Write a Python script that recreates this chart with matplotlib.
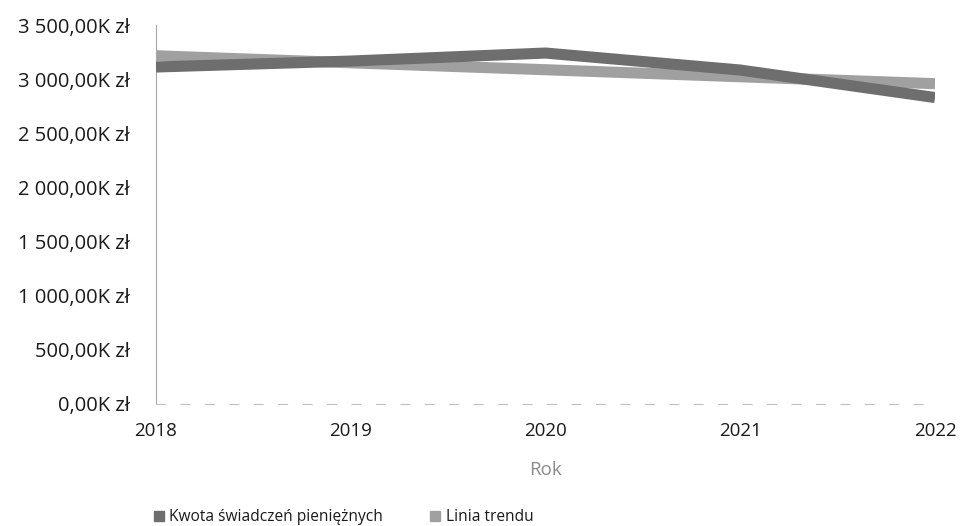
import matplotlib
matplotlib.use("Agg")
import matplotlib.pyplot as plt
from matplotlib.ticker import FuncFormatter
from matplotlib.lines import Line2D

years = [2018, 2019, 2020, 2021, 2022]
kwota = [3112, 3167, 3241, 3084, 2830]          # tys. zł
trend = [3216, 3151, 3087, 3022, 2958]          # tys. zł (linia trendu)
yticks = [0, 500, 1000, 1500, 2000, 2500, 3000, 3500]

plt.rcParams['font.family'] = ['Open Sans', 'DejaVu Sans']

fig = plt.figure(figsize=(9.63, 5.26), dpi=100)
ax = fig.add_axes([156/963, 122/526, 779/963, 379/526])

c_data = '#6e6e6e'
c_trend = '#a0a0a0'
ax.plot(years, trend, color=c_trend, lw=8, solid_capstyle='butt', zorder=2)
ax.plot(years, kwota, color=c_data, lw=8, solid_capstyle='butt', zorder=3)

ax.set_xlim(2018, 2022)
ax.set_ylim(0, 3500)
ax.set_yticks(yticks)
ax.set_xticks(years)

def fmt(v, pos):
    s = f"{v:,.2f}".replace(",", " ").replace(".", ",")
    return s + "K zł"
ax.yaxis.set_major_formatter(FuncFormatter(fmt))

for s in ['top', 'right']:
    ax.spines[s].set_visible(False)
ax.spines['left'].set_color('#a8a8a8')
ax.spines['left'].set_linestyle((0, (2, 1)))
ax.spines['left'].set_linewidth(0.8)
ax.spines['bottom'].set_color('#c0c0c0')
ax.spines['bottom'].set_linestyle((0, (8, 14)))
ax.spines['bottom'].set_linewidth(0.8)

ax.tick_params(axis='both', length=0, colors='#1a1a1a')
ax.tick_params(axis='y', pad=19, labelsize=14.5)
ax.tick_params(axis='x', pad=13, labelsize=13.5)
ax.set_xlabel('Rok', fontsize=13.5, color='#8a8a8a', labelpad=15)

handles = [Line2D([], [], marker='s', ls='none', color=c_data, markersize=7),
           Line2D([], [], marker='s', ls='none', color=c_trend, markersize=7)]
fig.legend(handles, ['Kwota świadczeń pieniężnych', 'Linia trendu'],
           loc='center', bbox_to_anchor=(342/963, 9/526), ncol=2, frameon=False,
           fontsize=11.2, handletextpad=0.2, columnspacing=2.8, handlelength=1.0,
           labelcolor='#1a1a1a')

fig.savefig('out.png', dpi=100)
